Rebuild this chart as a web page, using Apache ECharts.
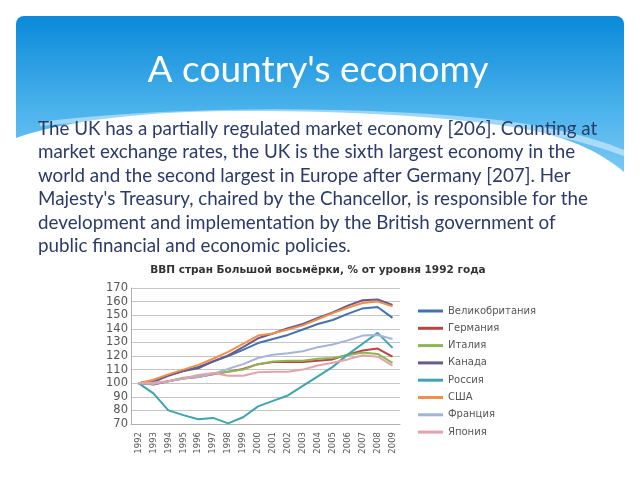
<!DOCTYPE html>
<html>
<head>
<meta charset="utf-8">
<script src="https://cdn.jsdelivr.net/npm/echarts@6/dist/echarts.min.js"></script>
<style>
html,body{margin:0;padding:0;background:#fff;}
#chart{width:640px;height:480px;}
</style>
</head>
<body>
<div id="chart"></div>
<script>
const slideTitle = "A country's economy";
const paragraphLines = [
  "The UK has a partially regulated market economy [206]. Counting at",
  "market exchange rates, the UK is the sixth largest economy in the",
  "world and the second largest in Europe after Germany [207]. Her",
  "Majesty's Treasury, chaired by the Chancellor, is responsible for the",
  "development and implementation by the British government of",
  "public financial and economic policies."
];
const chartTitle = "ВВП стран Большой восьмёрки, % от уровня 1992 года";
const years = ["1992","1993","1994","1995","1996","1997","1998","1999","2000","2001","2002","2003","2004","2005","2006","2007","2008","2009"];
const seriesNames = ["Великобритания","Германия","Италия","Канада","Россия","США","Франция","Япония"];
const uk      = [100, 102, 106, 109, 112, 116, 120, 124.5, 129.5, 132.5, 135.5, 139.5, 143.5, 146.5, 151, 155, 156, 148];
const germany = [100, 99, 101.5, 103.5, 104.5, 106.5, 108.5, 110.5, 114, 115.5, 115.5, 115.5, 116.5, 117.5, 121, 124, 125.5, 119.5];
const italy   = [100, 99.5, 101.5, 104, 105, 107, 108.5, 110, 114, 116, 116.5, 116.5, 118, 118.5, 120.5, 122.5, 121.5, 115];
const canada  = [100, 101, 105.5, 109, 111, 116, 120.5, 126.5, 133, 136.5, 140.5, 143.5, 148, 152, 157, 161, 161.5, 157.5];
const russia  = [100, 92.5, 80, 76.5, 73.5, 74.5, 70.5, 75, 83, 87, 91, 98, 105, 112, 121, 129, 137, 126];
const usa     = [100, 102.5, 106.5, 110, 113.5, 118, 123, 129, 135, 136.5, 139.5, 142.5, 147, 151.5, 155.5, 159, 160, 156.5];
const france  = [100, 99.5, 101.5, 103.5, 104.5, 107, 110.5, 114, 118.5, 121, 122, 123.5, 126.5, 128.5, 131.5, 135, 135.5, 132.5];
const japan   = [100, 100.5, 101.5, 103.5, 106, 107.5, 105.5, 105.5, 108, 108.5, 108.5, 110, 113, 115, 117.5, 120.5, 119.5, 113];
const seriesValues = [uk, germany, italy, canada, russia, usa, france, japan];
const seriesColors = ['#4272b0','#bc4541','#8fb552','#6a5a8c','#3fa3b0','#f0904a','#a3b4d8','#e2a3aa'];

// sample a chain of cubic bezier segments into polygon points (decorative slide background)
function bez(start, segs) {
  const pts = [start];
  let p0 = start;
  segs.forEach(function (s) {
    const c1 = s[0], c2 = s[1], p3 = s[2];
    for (let k = 1; k <= 16; k++) {
      const t = k / 16, u = 1 - t;
      pts.push([
        u*u*u*p0[0] + 3*u*u*t*c1[0] + 3*u*t*t*c2[0] + t*t*t*p3[0],
        u*u*u*p0[1] + 3*u*u*t*c1[1] + 3*u*t*t*c2[1] + t*t*t*p3[1]
      ]);
    }
    p0 = p3;
  });
  return pts;
}
const wavePts = bez([16,138], [
  [[60,122],[140,110],[260,111]],
  [[380,112],[470,118],[540,132]],
  [[580,142],[605,156],[624,172]]
]).concat([[624,480],[16,480]]);
const swooshTop = bez([40,122], [
  [[150,108],[330,104],[480,118]],
  [[540,124],[590,136],[624,150]]
]);
const swooshBottom = bez([624,156], [
  [[585,142],[540,130],[470,124]],
  [[330,112],[160,114],[40,126]]
]);

const chart = echarts.init(document.getElementById('chart'));

const graphics = [
  {
    type: 'rect', z: -10, silent: true,
    shape: {x: 16, y: 16, width: 608, height: 160, r: [8, 8, 0, 0]},
    style: {fill: new echarts.graphic.LinearGradient(0, 0, 0, 1, [
      {offset: 0, color: '#0a8ad9'},
      {offset: 0.6, color: '#4cb3ec'},
      {offset: 1, color: '#7ccaf3'}
    ])}
  },
  {
    type: 'polygon', z: -9, silent: true,
    shape: {points: wavePts},
    style: {fill: '#ffffff'}
  },
  {
    type: 'polygon', z: -8, silent: true,
    shape: {points: swooshTop.concat(swooshBottom)},
    style: {fill: 'rgba(255,255,255,0.45)'}
  },
  {
    type: 'text', z: 10,
    style: {text: slideTitle, x: 318, y: 70, font: '37px Lato', fill: '#ffffff', textAlign: 'center', textVerticalAlign: 'middle'}
  },
  {
    type: 'text', z: 10,
    style: {text: chartTitle, x: 318, y: 270, font: 'bold 10.5px "DejaVu Sans"', fill: '#333333', textAlign: 'center', textVerticalAlign: 'middle'}
  }
];
const baselines = [128.5, 152, 175.5, 199, 222.5, 246];
paragraphLines.forEach(function (t, i) {
  graphics.push({
    type: 'text', z: 10,
    style: {text: t, x: 38, y: baselines[i], font: '18.8px Lato', fill: '#2b3a67', textAlign: 'left', textVerticalAlign: 'middle'}
  });
});

chart.setOption({
  backgroundColor: '#ffffff',
  animation: false,
  graphic: graphics,
  grid: {left: 131, right: 240, top: 288, bottom: 56, containLabel: false},
  legend: {
    orient: 'vertical', left: 413, top: 300,
    itemWidth: 25, itemHeight: 3, itemGap: 5.3,
    icon: 'rect',
    textStyle: {fontFamily: 'DejaVu Sans', fontSize: 10, color: '#555555', lineHeight: 12},
    data: seriesNames
  },
  xAxis: {
    type: 'category', data: years, boundaryGap: true,
    axisLine: {show: true, lineStyle: {color: '#b0b0b0'}},
    axisTick: {show: false},
    axisLabel: {rotate: 90, fontFamily: 'DejaVu Sans', fontSize: 8.5, color: '#555555', margin: 8, interval: 0}
  },
  yAxis: {
    type: 'value', min: 70, max: 170, interval: 10,
    axisLine: {show: true, lineStyle: {color: '#b0b0b0'}},
    axisTick: {show: false},
    splitLine: {show: true, lineStyle: {color: '#c4c4c4'}},
    axisLabel: {fontFamily: 'DejaVu Sans', fontSize: 11.5, color: '#555555', margin: 3}
  },
  series: seriesNames.map(function (n, i) {
    return {
      name: n, type: 'line', data: seriesValues[i], symbol: 'none',
      lineStyle: {width: 2, color: seriesColors[i]}, itemStyle: {color: seriesColors[i]}
    };
  })
});
</script>
</body>
</html>
